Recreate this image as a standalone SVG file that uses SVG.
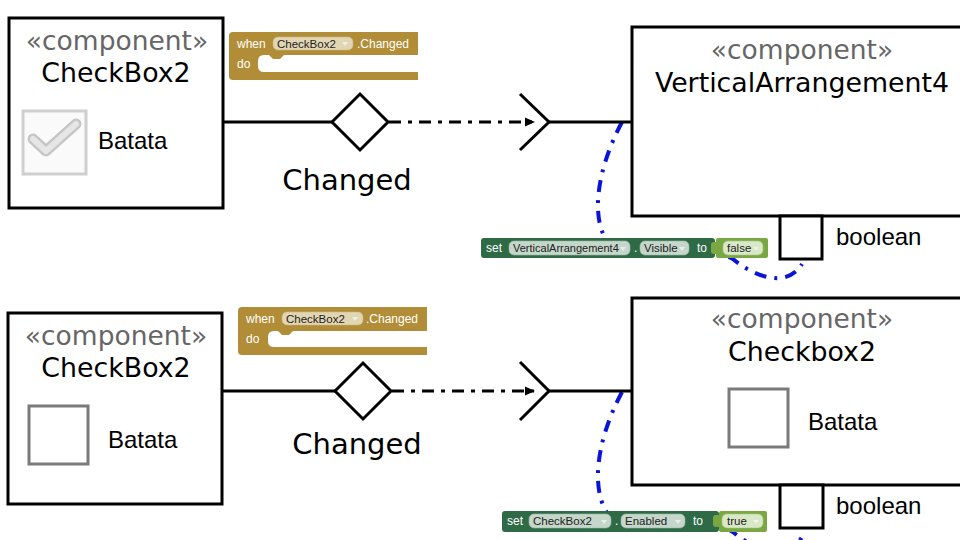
<svg xmlns="http://www.w3.org/2000/svg" width="960" height="540" viewBox="0 0 960 540">
<style>
.box{fill:#fff;stroke:#000;stroke-width:3}
.stereo{font-family:"DejaVu Sans",Verdana,sans-serif;font-size:26.5px;fill:#666;text-anchor:middle}
.name{font-family:"DejaVu Sans",Verdana,sans-serif;font-size:26.8px;fill:#000;text-anchor:middle}
.evt{font-family:"DejaVu Sans",Verdana,sans-serif;font-size:29px;fill:#000;text-anchor:middle}
.lbl{font-family:"Liberation Sans",Arial,sans-serif;font-size:24px;fill:#000}
.line{fill:none;stroke:#000;stroke-width:3}
.dd{fill:none;stroke:#000;stroke-width:3;stroke-dasharray:12 7 4 7}
.blue{fill:none;stroke:#0a14d8;stroke-width:4;stroke-dasharray:12 8 3 8}
.bt{font-family:"Liberation Sans",Arial,sans-serif;font-size:12px;fill:#fff}
.pt{font-family:"Liberation Sans",Arial,sans-serif;font-size:11.5px;fill:#222}
.gold{fill:#b08d36}
.gpill{fill:#e2d6b2;stroke:#c9b98a;stroke-width:0.6}
.dg{fill:#2e6a46}
.lg{fill:#79a843}
.spill{fill:#c5d6ca;stroke:#9fb8a6;stroke-width:0.6}
.lpill{fill:#d9e8c6;stroke:#a9c48a;stroke-width:0.6}
.tri{fill:#f4f4f4;opacity:0.8}
</style>
<defs>
<marker id="ah" markerWidth="10" markerHeight="10" refX="9" refY="5" orient="auto" markerUnits="userSpaceOnUse">
<path d="M0,0.5 L10,5 L0,9.5 Z" fill="#000"/>
</marker>
</defs>

<!-- blue curves (behind blocks) -->
<g id="curves">
<path class="blue" d="M 622 122 C 594 175, 592 222, 608 242 C 640 250, 710 245, 733 259 C 748 272, 785 292, 802 264"/>
<path class="blue" d="M 622 392 C 594 445, 592 492, 608 514 C 640 522, 710 517, 733 532 C 748 545, 785 565, 802 537"/>
</g>

<!-- connectors -->
<g id="connectors">
<line class="line" x1="223" y1="122" x2="332" y2="122"/>
<polygon class="line" points="332,122 360,94 388,122 360,150" style="fill:#fff"/>
<line class="dd" x1="389" y1="122" x2="534" y2="122" marker-end="url(#ah)"/>
<polyline class="line" points="520,94 549,122 520,150"/>
<line class="line" x1="549" y1="122" x2="632" y2="122"/>

<line class="line" x1="222" y1="391" x2="335" y2="391"/>
<polygon class="line" points="335,391 363,363 391,391 363,419" style="fill:#fff"/>
<line class="dd" x1="392" y1="391" x2="534" y2="391" marker-end="url(#ah)"/>
<polyline class="line" points="520,362 549,391 520,420"/>
<line class="line" x1="549" y1="391" x2="632" y2="391"/>
</g>

<g id="label-changed-1"><text class="evt" x="347" y="190">Changed</text></g>
<g id="label-changed-2"><text class="evt" x="357" y="454">Changed</text></g>

<!-- top-left component -->
<g id="checkbox2-top">
<rect class="box" x="9" y="18" width="214" height="190"/>
<text class="stereo" x="117" y="50">«component»</text>
<text class="name" x="116" y="82">CheckBox2</text>
<rect x="23" y="111" width="63" height="63" fill="#fafafa" stroke="#cfcfcf" stroke-width="3"/>
<polyline points="33,139 46,151 76,124" fill="none" stroke="#c6c6c6" stroke-width="11" stroke-linejoin="round" stroke-linecap="round"/>
<polyline points="33,139 46,151 76,124" fill="none" stroke="#e6e6e6" stroke-width="6" stroke-linejoin="round" stroke-linecap="round"/>
<text class="lbl" x="98" y="149">Batata</text>
</g>

<!-- top-right component -->
<g id="verticalarrangement4">
<rect class="box" x="632" y="27" width="340" height="189"/>
<text class="stereo" x="802" y="59">«component»</text>
<text class="name" x="802" y="92">VerticalArrangement4</text>
<rect class="box" x="780" y="216" width="42" height="43"/>
<text class="lbl" x="836" y="245">boolean</text>
</g>

<!-- bottom-left component -->
<g id="checkbox2-bottom">
<rect class="box" x="8" y="313" width="214" height="191"/>
<text class="stereo" x="116" y="345">«component»</text>
<text class="name" x="116" y="377">CheckBox2</text>
<rect x="29" y="406" width="59" height="58" fill="#fff" stroke="#7a7a7a" stroke-width="3"/>
<text class="lbl" x="108" y="448">Batata</text>
</g>

<!-- bottom-right component -->
<g id="checkbox2-right">
<rect class="box" x="632" y="298" width="340" height="187"/>
<text class="stereo" x="802" y="328">«component»</text>
<text class="name" x="802" y="361">Checkbox2</text>
<rect x="729" y="389" width="59" height="58" fill="#fff" stroke="#7a7a7a" stroke-width="3"/>
<text class="lbl" x="808" y="430">Batata</text>
<rect class="box" x="780" y="485" width="43" height="43"/>
<text class="lbl" x="836" y="514">boolean</text>
</g>

<!-- when blocks -->
<g id="when-block-1">
<path class="gold" d="M 233 32 L 418 32 L 418 80 L 233 80 Q 229 80 229 76 L 229 36 Q 229 32 233 32 Z"/>
<path fill="#fff" d="M 418 55 L 284 55 L 280 59 L 273 59 L 269 55 L 264 55 Q 258 55 258 61 L 258 66 Q 258 72 264 72 L 418 72 Z"/>
<text class="bt" x="237" y="48">when</text>
<rect class="gpill" x="273" y="37" width="80" height="13" rx="5"/>
<text class="pt" x="277" y="47.5">CheckBox2</text>
<polygon class="tri" points="342,42 348,42 345,46"/>
<text class="bt" x="357" y="48">.Changed</text>
<text class="bt" x="237" y="68">do</text>
</g>
<g id="when-block-2">
<path class="gold" d="M 242 307 L 427 307 L 427 355 L 242 355 Q 238 355 238 351 L 238 311 Q 238 307 242 307 Z"/>
<path fill="#fff" d="M 427 331 L 293 331 L 289 335 L 282 335 L 278 331 L 274 331 Q 268 331 268 337 L 268 341 Q 268 347 274 347 L 427 347 Z"/>
<text class="bt" x="246" y="323">when</text>
<rect class="gpill" x="282" y="312" width="81" height="13" rx="5"/>
<text class="pt" x="286" y="322.5">CheckBox2</text>
<polygon class="tri" points="352,317 358,317 355,321"/>
<text class="bt" x="366" y="323">.Changed</text>
<text class="bt" x="246" y="343">do</text>
</g>

<!-- set blocks -->
<g id="set-block-1">
<rect class="dg" x="481" y="238" width="234" height="20" rx="3"/>
<rect class="lg" x="716" y="238" width="52" height="20" rx="2"/>
<rect class="lg" x="711" y="242" width="8" height="12" rx="3"/>
<text class="bt" x="486" y="252">set</text>
<rect class="spill" x="509" y="241" width="121" height="14" rx="5"/>
<text class="pt" x="513" y="252" style="font-size:11px">VerticalArrangement4</text>
<polygon class="tri" points="620,247 626,247 623,251"/>
<text class="bt" x="634" y="252">.</text>
<rect class="spill" x="640" y="241" width="49" height="14" rx="5"/>
<text class="pt" x="644" y="252">Visible</text>
<polygon class="tri" points="679,247 685,247 682,251"/>
<text class="bt" x="697" y="252">to</text>
<rect class="lpill" x="723" y="241" width="40" height="14" rx="5"/>
<text class="pt" x="727" y="252">false</text>
<polygon class="tri" points="753,247 759,247 756,251"/>
</g>
<g id="set-block-2">
<rect class="dg" x="502" y="511" width="217" height="21" rx="3"/>
<rect class="lg" x="719" y="511" width="48" height="21" rx="2"/>
<rect class="lg" x="713" y="515" width="8" height="12" rx="3"/>
<text class="bt" x="507" y="525">set</text>
<rect class="spill" x="529" y="514" width="82" height="14" rx="5"/>
<text class="pt" x="533" y="525">CheckBox2</text>
<polygon class="tri" points="601,520 607,520 604,524"/>
<text class="bt" x="615" y="525">.</text>
<rect class="spill" x="621" y="514" width="64" height="14" rx="5"/>
<text class="pt" x="625" y="525">Enabled</text>
<polygon class="tri" points="675,520 681,520 678,524"/>
<text class="bt" x="693" y="525">to</text>
<rect class="lpill" x="722" y="514" width="41" height="14" rx="5"/>
<text class="pt" x="727" y="525">true</text>
<polygon class="tri" points="753,520 759,520 756,524"/>
</g>
</svg>
